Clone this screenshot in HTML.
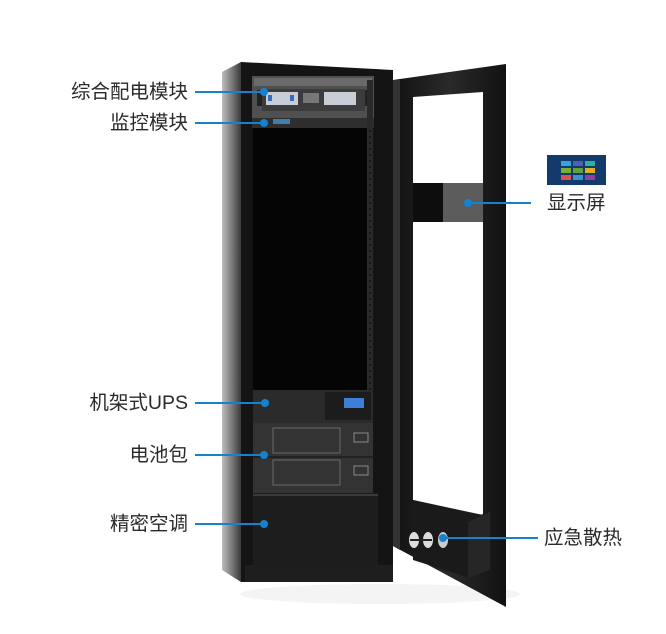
<!DOCTYPE html>
<html><head><meta charset="utf-8"><style>
html,body{margin:0;padding:0;background:#fff;}
body{width:666px;height:634px;position:relative;overflow:hidden;font-family:"Liberation Sans","Noto Sans CJK SC",sans-serif;}
.t{position:absolute;font-size:19.5px;color:#2a2a2a;white-space:nowrap;line-height:20px;}
.r{text-align:right;width:180px;left:8px;}
</style></head><body>
<svg width="666" height="634" style="position:absolute;left:0;top:0">
<defs>
<linearGradient id="side" x1="0" x2="1"><stop offset="0" stop-color="#bdbdbd"/><stop offset="0.4" stop-color="#8a8a8a"/><stop offset="1" stop-color="#3a3a3a"/></linearGradient>
<linearGradient id="door" x1="0" x2="1"><stop offset="0" stop-color="#111"/><stop offset="0.5" stop-color="#2a2a2a"/><stop offset="1" stop-color="#111"/></linearGradient>
</defs>
<ellipse cx="380" cy="594" rx="140" ry="10" fill="#f4f4f4"/>
<polygon points="222,72 241,62 241,582 222,570" fill="url(#side)"/>
<polygon points="241,62 393,70 393,582 241,582" fill="#141414"/>
<rect x="245" y="565" width="148" height="17" fill="#1e1e1e"/>
<rect x="252" y="76" width="122" height="42" fill="#505050"/>
<rect x="254" y="78" width="118" height="8" fill="#6a6a6a"/>
<rect x="262" y="89" width="103" height="22" fill="#3c3c3c"/>
<rect x="266" y="92" width="32" height="13" fill="#c8ccd4"/>
<rect x="324" y="92" width="32" height="13" fill="#c8ccd4"/>
<rect x="303" y="93" width="16" height="10" fill="#777"/>
<rect x="268" y="95" width="4" height="6" fill="#3a6ac0"/><rect x="290" y="95" width="4" height="6" fill="#3a6ac0"/>
<rect x="257" y="90" width="5" height="16" fill="#222"/><rect x="365" y="90" width="5" height="16" fill="#222"/>
<rect x="252" y="118" width="122" height="10" fill="#2e2e2e"/>
<rect x="273" y="119" width="17" height="5" fill="#3d7fb0"/>
<rect x="253" y="128" width="114" height="262" fill="#050505"/>
<rect x="367" y="80" width="6" height="420" fill="#2a2a2a"/>
<line x1="370" y1="130" x2="370" y2="500" stroke="#111" stroke-width="1.5" stroke-dasharray="2,4"/>
<rect x="253" y="390" width="120" height="33" fill="#2b2b2b"/>
<rect x="325" y="392" width="46" height="28" fill="#1c1c1c"/>
<rect x="344" y="398" width="20" height="10" fill="#3b7fd6"/>
<rect x="253" y="423" width="120" height="70" fill="#333"/>
<line x1="253" y1="457" x2="373" y2="457" stroke="#222" stroke-width="2"/>
<rect x="273" y="428" width="67" height="25" fill="none" stroke="#777" stroke-width="0.8"/>
<rect x="273" y="460" width="67" height="25" fill="none" stroke="#777" stroke-width="0.8"/>
<rect x="354" y="433" width="14" height="9" fill="none" stroke="#888"/>
<rect x="354" y="466" width="14" height="9" fill="none" stroke="#888"/>
<rect x="253" y="493" width="125" height="72" fill="#1d1d1d"/>
<line x1="253" y1="495" x2="378" y2="495" stroke="#3a3a3a" stroke-width="2"/>
<polygon points="393,80 506,64 506,607 393,546" fill="url(#door)"/>
<polygon points="393,80 400,80 400,550 393,546" fill="#333"/>
<polygon points="413,97 483,92 483,515 413,500" fill="#fff"/>
<rect x="413" y="183" width="70" height="39" fill="#3a3a3a"/>
<rect x="413" y="183" width="30" height="39" fill="#0d0d0d"/>
<rect x="443" y="183" width="40" height="39" fill="#5c5c5c"/>
<polygon points="413,500 480,515 490,512 490,570 470,578 413,560" fill="#1a1a1a"/>
<polygon points="468,522 490,512 490,570 468,578" fill="#262626"/>
<ellipse cx="414" cy="540" rx="5" ry="8" fill="#ddd"/><ellipse cx="428" cy="540" rx="5" ry="8" fill="#ddd"/><ellipse cx="443" cy="540" rx="5" ry="8" fill="#ccc"/>
<line x1="410" y1="540" x2="432" y2="540" stroke="#222" stroke-width="2"/>
<g stroke="#1582cf" stroke-width="2">
<line x1="195" y1="92" x2="264" y2="92"/>
<line x1="195" y1="123" x2="264" y2="123"/>
<line x1="195" y1="403" x2="265" y2="403"/>
<line x1="195" y1="455" x2="264" y2="455"/>
<line x1="195" y1="524" x2="264" y2="524"/>
<line x1="468" y1="203" x2="531" y2="203"/>
<line x1="443" y1="538" x2="538" y2="538"/>
</g>
<g fill="#1582cf">
<circle cx="264" cy="92" r="4"/><circle cx="264" cy="123" r="4"/><circle cx="265" cy="403" r="4"/>
<circle cx="264" cy="455" r="4"/><circle cx="264" cy="524" r="4"/><circle cx="468" cy="203" r="4"/><circle cx="443" cy="538" r="4"/>
</g>
<rect x="547" y="155" width="59" height="30" fill="#123a6a"/>
<rect x="561" y="161" width="10" height="5" fill="#3aa0e0"/><rect x="573" y="161" width="10" height="5" fill="#5060b0"/><rect x="585" y="161" width="10" height="5" fill="#30b0a0"/>
<rect x="561" y="168" width="10" height="5" fill="#7ab030"/><rect x="573" y="168" width="10" height="5" fill="#60a040"/><rect x="585" y="168" width="10" height="5" fill="#e0b020"/>
<rect x="561" y="175" width="10" height="5" fill="#e05050"/><rect x="573" y="175" width="10" height="5" fill="#3a90d0"/><rect x="585" y="175" width="10" height="5" fill="#9040a0"/>
</svg>
<div class="t r" style="top:82px">综合配电模块</div>
<div class="t r" style="top:113px">监控模块</div>
<div class="t r" style="top:393px">机架式UPS</div>
<div class="t r" style="top:445px">电池包</div>
<div class="t r" style="top:514px">精密空调</div>
<div class="t" style="left:547px;top:193px">显示屏</div>
<div class="t" style="left:544px;top:528px">应急散热</div>
</body></html>
